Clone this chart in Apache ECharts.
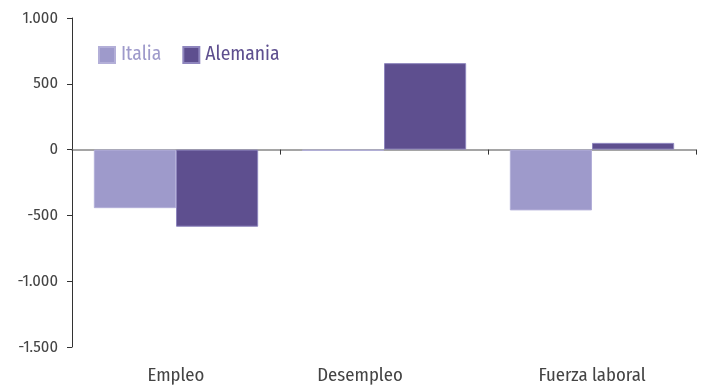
<!DOCTYPE html>
<html><head><meta charset="utf-8">
<script src="https://cdn.jsdelivr.net/npm/echarts@6/dist/echarts.min.js"></script>
<style>html,body{margin:0;padding:0;background:#fff}#c{width:709px;height:385px}</style>
</head><body><div id="c"></div>
<script>
const categories = ['Empleo', 'Desempleo', 'Fuerza laboral'];
const italia = [-445, -10, -462];
const alemania = [-586, 657, 51];
const seriesNames = ['Italia', 'Alemania'];

const font = '"Fira Sans Condensed", "Fira Sans", "Noto Sans", sans-serif';
const c1 = '#9e9acb', c2 = '#5e4f8f';
const labelShift = [0, 48, 0];
const chart = echarts.init(document.getElementById('c'));
chart.setOption({
  animation: false,
  textStyle: {fontFamily: font},
  grid: {left: 72, right: 13, top: 18, bottom: 37},
  legend: {
    left: 98, top: 45, padding: 0, itemWidth: 16, itemHeight: 16, itemGap: 21, icon: 'rect',
    data: [
      {name: seriesNames[0], textStyle: {color: c1}},
      {name: seriesNames[1], textStyle: {color: c2}}
    ],
    textStyle: {fontSize: 19.5, fontFamily: font, padding: [0, 0, 0, 1]}
  },
  xAxis: [{
    type: 'category', data: categories,
    axisLine: {onZero: true, lineStyle: {color: '#888', width: 1.5}},
    axisTick: {show: true, length: 5, lineStyle: {color: '#333'}},
    axisLabel: {show: false}
  }, {
    type: 'category', position: 'bottom',
    data: categories.map((c, i) => ({value: c, textStyle: {padding: [0, labelShift[i], 0, 0]}})),
    axisLine: {show: false, onZero: false}, axisTick: {show: false},
    axisLabel: {color: '#444', fontSize: 18.7, margin: 19, fontFamily: font}
  }],
  yAxis: {
    type: 'value', min: -1500, max: 1000, interval: 500,
    splitLine: {show: false},
    axisLine: {show: true, lineStyle: {color: '#333'}},
    axisTick: {show: true, length: 5, lineStyle: {color: '#333'}},
    axisLabel: {color: '#444', fontSize: 16.5, margin: 14, fontFamily: font,
      formatter: v => String(v).replace(/(\d)(?=(\d{3})+$)/, '$1.')}
  },
  series: [
    {name: seriesNames[0], type: 'bar', data: italia, xAxisIndex: 0, barGap: '0%', barCategoryGap: '21%',
     itemStyle: {color: c1, borderColor: '#b3afd8', borderWidth: 1}},
    {name: seriesNames[1], type: 'bar', data: alemania, xAxisIndex: 0,
     itemStyle: {color: c2, borderColor: '#8e85bd', borderWidth: 1}}
  ]
});
</script></body></html>
